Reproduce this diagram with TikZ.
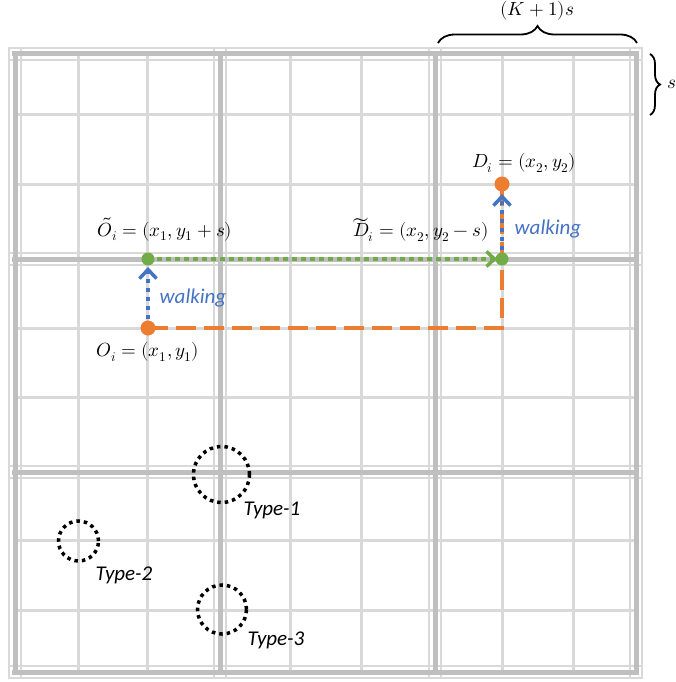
\documentclass[tikz,border=0pt]{standalone}
\usepackage{fontspec}
\usepackage{unicode-math}
\setmathfont{Latin Modern Math}
\newfontfamily\carl{Carlito}
\usetikzlibrary{arrows.meta,decorations.pathreplacing}
\definecolor{gl}{HTML}{D9D9D9}
\definecolor{gd}{HTML}{BFBFBF}
\definecolor{orng}{HTML}{ED7D31}
\definecolor{grn}{HTML}{70AD47}
\definecolor{blu}{HTML}{4472C4}
\tikzset{
  fine/.style={gl, line width=3pt},
  blight/.style={gl, line width=2.5pt},
  bdark/.style={gd, line width=5pt},
  dotdot/.style={line width=4pt, dash pattern=on 4.5pt off 4.5pt},
  barb/.style={-{Straight Barb[length=9pt,width=17pt,line width=3.5pt]}},
  odot/.style={circle, fill=orng, inner sep=0pt, minimum size=15pt},
  gdot/.style={circle, fill=grn, inner sep=0pt, minimum size=13pt},
  lbl/.style={font=\fontsize{19}{22}\selectfont, inner sep=0pt},
  walk/.style={font=\carl\itshape\fontsize{21}{24}\selectfont, text=blu, inner sep=0pt},
  typ/.style={font=\carl\itshape\fontsize{21}{24}\selectfont, inner sep=0pt},
  region/.style={draw=black, line width=3.5pt, dash pattern=on 3.5pt off 4pt},
  bracepath/.style={decorate, line width=1.8pt},
}
\begin{document}
\begin{tikzpicture}[x=1pt,y=-1pt]
\useasboundingbox (0,0) rectangle (676,682);
% fine grid lines
\foreach \x in {78,147,290,361,502,573} \draw[fine] (\x,54) -- (\x,672);
\foreach \y in {115,184,328,397,540,610} \draw[fine] (15,\y) -- (636,\y);
% block boundary lines
\foreach \x in {15,220,435,636} {
  \draw[blight] (\x-6,47) -- (\x-6,679);
  \draw[blight] (\x+6,47) -- (\x+6,679);
}
\foreach \y in {54,259,472,672} {
  \draw[blight] (9,\y-6) -- (642,\y-6);
  \draw[blight] (9,\y+6) -- (642,\y+6);
}
\foreach \x in {15,220,435,636} \draw[bdark] (\x,51) -- (\x,675);
\foreach \y in {54,259,472,672} \draw[bdark] (12,\y) -- (639,\y);

% points
\coordinate (O) at (148,328);
\coordinate (Ot) at (148,259);
\coordinate (Dt) at (502,259);
\coordinate (D) at (502,184);
\coordinate (C) at (502,328);

% paths
\draw[orng, line width=4pt, dash pattern=on 20pt off 8pt] (O) -- (C) -- (D);
\draw[grn, dotdot, -{Straight Barb[length=8pt,width=15pt,line width=3.5pt]}] (Ot) -- ([xshift=-5pt]Dt);
\draw[blu, dotdot, barb] (O) -- ([yshift=-8pt]Ot);
\draw[blu, dotdot, barb] (Dt) -- ([yshift=-10pt]D);

\node[odot] (On) at (O) {};
\node[gdot] (Otn) at (Ot) {};
\node[gdot] (Dtn) at (Dt) {};
\node[odot] (Dn) at (D) {};

% labels
\node[lbl] (lOt) at (165,229) {$\tilde{O}_i=(x_1,y_1+s)$};
\node[lbl] (lO) at (148,352) {$O_i=(x_1,y_1)$};
\node[lbl] (lDt) at (421,230) {$\widetilde{D}_i=(x_2,y_2-s)$};
\node[lbl] (lD) at (524,163) {$D_i=(x_2,y_2)$};
\node[walk] (w1) at (193,298) {walking};
\node[walk] (w2) at (548,229) {walking};

% regions
\node[region, circle, minimum size=56pt, inner sep=0pt] (t1) at (221.5,474.5) {};
\node[region, circle, minimum size=40pt, inner sep=0pt] (t2) at (78.5,541) {};
\node[region, circle, minimum size=49pt, inner sep=0pt] (t3) at (222,609.5) {};
\node[typ] (lt1) at (272,510) {Type-1};
\node[typ] (lt2) at (124,575) {Type-2};
\node[typ] (lt3) at (276,640) {Type-3};

% braces
\coordinate (b1a) at (438,43);
\coordinate (b1b) at (637,43);
\draw[bracepath, decoration={brace, amplitude=17pt}] (b1a) -- (b1b);
\node[lbl] (lK) at (537,11) {$(K+1)s$};
\coordinate (b2a) at (650,54);
\coordinate (b2b) at (650,115);
\draw[bracepath, decoration={brace, amplitude=10pt}] (b2a) -- (b2b);
\node[lbl] (ls) at (672,84) {$s$};
\end{tikzpicture}
\end{document}
